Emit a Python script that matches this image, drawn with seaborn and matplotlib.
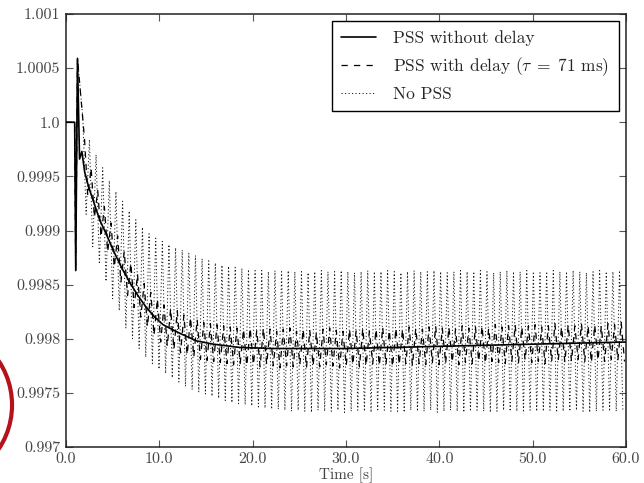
"""
Generator speed after a load step: PSS without delay, PSS with delay, no PSS.
"""

import matplotlib
matplotlib.use("Agg")
import matplotlib.pyplot as plt
import numpy as np
import seaborn as sns
from matplotlib.patches import Ellipse

# --- data ------------------------------------------------------------------
# solid line: PSS without delay
pss_time = [0.0, 0.93, 1.04, 1.23, 1.45, 1.7, 2.0, 2.4, 2.9, 3.6, 4.3, 5.1, 6.0,
            6.9, 7.7, 8.6, 9.5, 10.4, 12.2, 14.0, 15.8, 18.6, 22.0, 26.0, 30.0,
            35.0, 40.0, 45.0, 50.0, 55.0, 60.0]
pss_speed = [1.0, 1.0, 0.99863, 1.00059, 0.99966, 0.99973, 0.99954, 0.99941,
             0.99928, 0.99910, 0.99897, 0.99881, 0.99865, 0.99851, 0.99840,
             0.99829, 0.99820, 0.99813, 0.99805, 0.99798, 0.99795, 0.99792,
             0.99791, 0.99791, 0.99791, 0.99792, 0.99793, 0.99794, 0.99795,
             0.99796, 0.99797]

# load step shared by all runs before the swings start
step_time = [0.0, 0.93, 1.04, 1.23]
step_speed = [1.0, 1.0, 0.99863, 1.00059]

# swings: one peak and one trough per cycle
cycle_start = 1.8
cycle_period = 0.71
delay_phase = 0.18

nopss_peaks = [
    1.00004, 0.99984, 0.99970, 0.99958, 0.99946, 0.99936, 0.99927, 0.99918, 0.99910, 0.99903,
    0.99897, 0.99893, 0.99890, 0.99887, 0.99884, 0.99882, 0.99879, 0.99877, 0.99874, 0.99872,
    0.99870, 0.99868, 0.99867, 0.99866, 0.99865, 0.99864, 0.99863, 0.99863, 0.99862, 0.99863,
    0.99862, 0.99863, 0.99862, 0.99862, 0.99861, 0.99862, 0.99863, 0.99862, 0.99862, 0.99863,
    0.99862, 0.99861, 0.99862, 0.99863, 0.99862, 0.99862, 0.99863, 0.99862, 0.99861, 0.99862,
    0.99863, 0.99862, 0.99862, 0.99863, 0.99862, 0.99861, 0.99862, 0.99863, 0.99862, 0.99862,
    0.99863, 0.99862, 0.99861, 0.99862, 0.99863, 0.99862, 0.99862, 0.99863, 0.99862, 0.99861,
    0.99862, 0.99863, 0.99862, 0.99862, 0.99863, 0.99862, 0.99861, 0.99862, 0.99863, 0.99862,
    0.99862, 0.99863,
]
nopss_troughs = [
    0.99915, 0.99885, 0.99869, 0.99853, 0.99837, 0.99826, 0.99810, 0.99800, 0.99791, 0.99783,
    0.99777, 0.99772, 0.99768, 0.99764, 0.99760, 0.99756, 0.99753, 0.99751, 0.99749, 0.99747,
    0.99745, 0.99743, 0.99741, 0.99740, 0.99739, 0.99738, 0.99737, 0.99736, 0.99735, 0.99735,
    0.99734, 0.99733, 0.99734, 0.99733, 0.99732, 0.99734, 0.99733, 0.99733, 0.99734, 0.99732,
    0.99733, 0.99734, 0.99733, 0.99732, 0.99733, 0.99734, 0.99733, 0.99733, 0.99732, 0.99734,
    0.99733, 0.99733, 0.99734, 0.99732, 0.99733, 0.99734, 0.99733, 0.99732, 0.99733, 0.99734,
    0.99733, 0.99732, 0.99733, 0.99734, 0.99733, 0.99733, 0.99732, 0.99734, 0.99733, 0.99733,
    0.99734, 0.99732, 0.99733, 0.99733, 0.99734, 0.99733, 0.99732, 0.99733, 0.99734, 0.99733,
    0.99733, 0.99734,
]
delay_peaks = [
    0.99985, 0.99958, 0.99937, 0.99922, 0.99907, 0.99895, 0.99881, 0.99870, 0.99860, 0.99851,
    0.99843, 0.99837, 0.99831, 0.99828, 0.99826, 0.99822, 0.99820, 0.99818, 0.99815, 0.99814,
    0.99813, 0.99812, 0.99811, 0.99810, 0.99809, 0.99810, 0.99808, 0.99810, 0.99809, 0.99807,
    0.99809, 0.99810, 0.99807, 0.99809, 0.99808, 0.99806, 0.99809, 0.99810, 0.99808, 0.99807,
    0.99809, 0.99808, 0.99810, 0.99807, 0.99809, 0.99811, 0.99808, 0.99810, 0.99809, 0.99811,
    0.99810, 0.99809, 0.99811, 0.99812, 0.99810, 0.99811, 0.99809, 0.99812, 0.99810, 0.99811,
    0.99812, 0.99810, 0.99813, 0.99811, 0.99812, 0.99813, 0.99811, 0.99812, 0.99813, 0.99811,
    0.99812, 0.99814, 0.99811, 0.99813, 0.99812, 0.99814, 0.99812, 0.99813, 0.99812, 0.99814,
    0.99813, 0.99815,
]
delay_troughs = [
    0.99932, 0.99912, 0.99894, 0.99880, 0.99866, 0.99852, 0.99840, 0.99829, 0.99820, 0.99811,
    0.99803, 0.99797, 0.99793, 0.99790, 0.99787, 0.99785, 0.99783, 0.99781, 0.99780, 0.99779,
    0.99778, 0.99777, 0.99776, 0.99777, 0.99775, 0.99776, 0.99774, 0.99776, 0.99775, 0.99773,
    0.99775, 0.99774, 0.99776, 0.99773, 0.99775, 0.99774, 0.99776, 0.99775, 0.99773, 0.99775,
    0.99776, 0.99774, 0.99775, 0.99777, 0.99775, 0.99776, 0.99774, 0.99776, 0.99777, 0.99775,
    0.99777, 0.99776, 0.99778, 0.99776, 0.99777, 0.99778, 0.99776, 0.99778, 0.99777, 0.99779,
    0.99777, 0.99779, 0.99778, 0.99777, 0.99779, 0.99778, 0.99780, 0.99778, 0.99779, 0.99777,
    0.99779, 0.99780, 0.99778, 0.99779, 0.99781, 0.99779, 0.99778, 0.99780, 0.99779, 0.99781,
    0.99780, 0.99779,
]

x_ticks = [0, 10, 20, 30, 40, 50, 60]
x_tick_labels = ["0.0", "10.0", "20.0", "30.0", "40.0", "50.0", "60.0"]
y_ticks = [0.997, 0.9975, 0.998, 0.9985, 0.999, 0.9995, 1.0, 1.0005, 1.001]
y_tick_labels = ["0.997", "0.9975", "0.998", "0.9985", "0.999", "0.9995",
                 "1.0", "1.0005", "1.001"]

LABELS = ["PSS without delay", r"PSS with delay ($\tau\;=\;71$ ms)", "No PSS"]
TEXT_GREY = "#444444"


def swing_series(peaks, troughs, offset=0.0):
    """Join the load step with alternating peak / trough readings."""
    t_peak = cycle_start + offset + cycle_period * np.arange(len(peaks))
    t_trough = t_peak + cycle_period / 2
    times = np.column_stack([t_peak, t_trough]).ravel()
    values = np.column_stack([peaks, troughs]).ravel()
    return np.r_[step_time, times], np.r_[step_speed, values]


sns.set_theme(style="ticks")
plt.rcParams["font.family"] = ["cmr10", "DejaVu Serif"]
plt.rcParams["mathtext.fontset"] = "cm"
plt.rcParams["axes.formatter.use_mathtext"] = True

fig = plt.figure(figsize=(6.44, 4.83), dpi=100)
ax = fig.add_axes([0.1025, 0.0745, 0.8695, 0.8965])

t_nopss, v_nopss = swing_series(nopss_peaks, nopss_troughs)
t_delay, v_delay = swing_series(delay_peaks, delay_troughs, delay_phase)

sns.lineplot(x=t_nopss, y=v_nopss, ax=ax, color="#1a1a1a", lw=0.7,
             linestyle=(0, (1.2, 2.4)), estimator=None, label=LABELS[2], zorder=1)
sns.lineplot(x=t_delay, y=v_delay, ax=ax, color="black", lw=0.9,
             linestyle=(0, (5, 5)), estimator=None, label=LABELS[1], zorder=2)
sns.lineplot(x=pss_time, y=pss_speed, ax=ax, color="black", lw=1.2,
             estimator=None, label=LABELS[0], zorder=3)

ax.set_xlim(0, 60)
ax.set_ylim(0.997, 1.001)
ax.set_xticks(x_ticks)
ax.set_xticklabels(x_tick_labels)
ax.set_yticks(y_ticks)
ax.set_yticklabels(y_tick_labels)
ax.tick_params(direction="in", length=5, width=0.8, colors="#555555",
               labelcolor=TEXT_GREY, labelsize=11.5, top=True, right=True, pad=4)
ax.set_xlabel("Time [s]", fontsize=11, color=TEXT_GREY, labelpad=1)
ax.set_ylabel("")
for spine in ax.spines.values():
    spine.set_color("#222222")
    spine.set_linewidth(1.1)

handles, labels = ax.get_legend_handles_labels()
order = [labels.index(lab) for lab in LABELS]
leg = ax.legend([handles[i] for i in order], LABELS, loc="upper right",
                fontsize=12.5, frameon=True, fancybox=False, framealpha=1,
                edgecolor="black", borderaxespad=0.4, handlelength=2.0,
                handletextpad=1.0, labelspacing=0.5, borderpad=0.55)
leg.get_frame().set_linewidth(1.0)

# red marker ring cut off at the left edge of the page
fig.add_artist(Ellipse((-0.1048, 0.1615), 0.247, 0.329, transform=fig.transFigure,
                       fill=False, edgecolor="#b5121b", linewidth=3, clip_on=False))

fig.savefig("out.png", dpi=100)
plt.close(fig)
